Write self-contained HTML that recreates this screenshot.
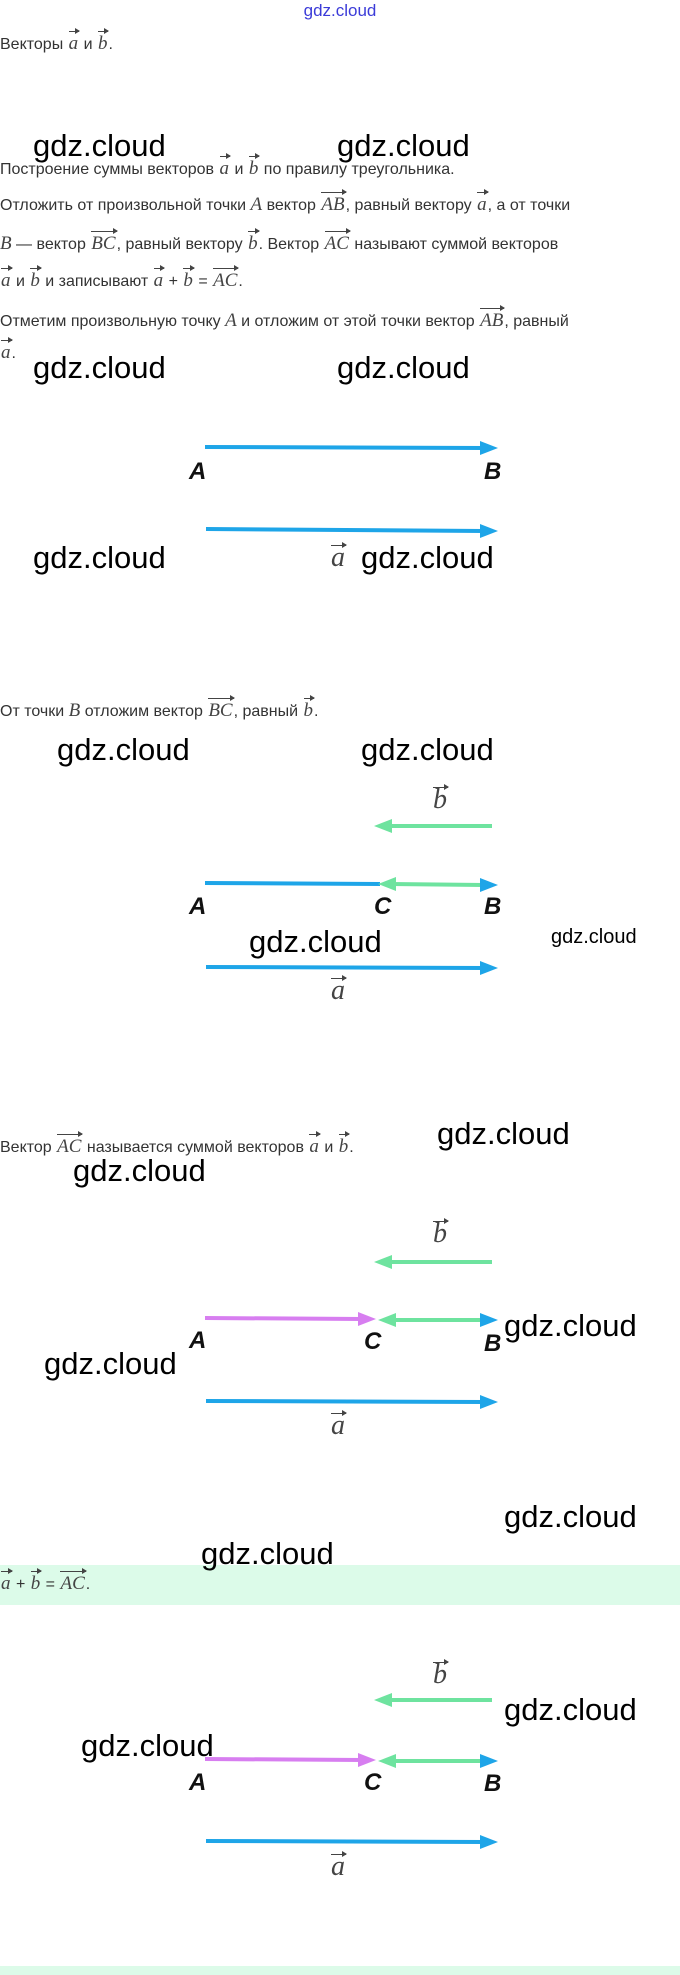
<!DOCTYPE html>
<html><head><meta charset="utf-8"><style>
body{margin:0;width:680px;height:1975px;position:relative;background:#fff;overflow:hidden;font-family:"Liberation Sans",sans-serif;}
.t{position:absolute;left:0;font-size:16px;color:#333;line-height:20px;white-space:nowrap;}
.w{position:absolute;font-size:31px;color:#000;line-height:36px;white-space:nowrap;}
.v{position:relative;display:inline-block;font-family:"Liberation Serif",serif;font-style:italic;font-size:19px;color:#444;padding:0 1px;}
.v::before{content:"";position:absolute;left:1px;right:0;top:-3px;border-top:1px solid #444;}
.v::after{content:"";position:absolute;right:-1px;top:-6px;border-left:6px solid #444;border-top:3px solid transparent;border-bottom:3px solid transparent;width:0;height:0;transform:translateY(0);border-left-width:5px;}
.m{font-family:"Liberation Serif",serif;font-style:italic;font-size:19px;color:#444;}
.L{position:absolute;font-family:"Liberation Sans Narrow","Liberation Sans",sans-serif;font-weight:bold;font-style:italic;font-size:24px;line-height:26px;color:#111;}
.band{position:absolute;left:0;width:680px;background:#dcfbe9;}
</style></head><body>
<div class="band" style="top:1565px;height:40px"></div>
<div class="band" style="top:1966px;height:9px"></div>
<div style="position:absolute;left:0;width:680px;top:1px;text-align:center;font-size:17px;color:#3b3bd8;line-height:20px">gdz.cloud</div>

<div class="t" style="top:34px">Векторы <span class="v">a</span> и <span class="v">b</span>.</div>
<div class="t" style="top:159px">Построение суммы векторов <span class="v">a</span> и <span class="v">b</span> по правилу треугольника.</div>
<div class="t" style="top:195px">Отложить от произвольной точки <span class="m">A</span> вектор <span class="v">AB</span>, равный вектору <span class="v">a</span>, а от точки</div>
<div class="t" style="top:234px"><span class="m">B</span> — вектор <span class="v">BC</span>, равный вектору <span class="v">b</span>. Вектор <span class="v">AC</span> называют суммой векторов</div>
<div class="t" style="top:271px"><span class="v">a</span> и <span class="v">b</span> и записывают <span class="v">a</span> + <span class="v">b</span> = <span class="v">AC</span>.</div>
<div class="t" style="top:311px">Отметим произвольную точку <span class="m">A</span> и отложим от этой точки вектор <span class="v">AB</span>, равный</div>
<div class="t" style="top:343px"><span class="v">a</span>.</div>
<div class="t" style="top:701px">От точки <span class="m">B</span> отложим вектор <span class="v">BC</span>, равный <span class="v">b</span>.</div>
<div class="t" style="top:1137px">Вектор <span class="v">AC</span> называется суммой векторов <span class="v">a</span> и <span class="v">b</span>.</div>
<div class="t" style="top:1574px"><span class="v">a</span> + <span class="v">b</span> = <span class="v">AC</span>.</div>

<div class="w" style="left:33px;top:128px">gdz.cloud</div>
<div class="w" style="left:337px;top:128px">gdz.cloud</div>
<div class="w" style="left:33px;top:350px">gdz.cloud</div>
<div class="w" style="left:337px;top:350px">gdz.cloud</div>
<div class="w" style="left:33px;top:540px">gdz.cloud</div>
<div class="w" style="left:361px;top:540px">gdz.cloud</div>
<div class="w" style="left:57px;top:732px">gdz.cloud</div>
<div class="w" style="left:361px;top:732px">gdz.cloud</div>
<div class="w" style="left:249px;top:924px">gdz.cloud</div>
<div class="w" style="left:551px;top:925px;font-size:20px;line-height:24px">gdz.cloud</div>
<div class="w" style="left:437px;top:1116px">gdz.cloud</div>
<div class="w" style="left:73px;top:1153px">gdz.cloud</div>
<div class="w" style="left:504px;top:1308px">gdz.cloud</div>
<div class="w" style="left:44px;top:1346px">gdz.cloud</div>
<div class="w" style="left:504px;top:1499px">gdz.cloud</div>
<div class="w" style="left:201px;top:1536px">gdz.cloud</div>
<div class="w" style="left:504px;top:1692px">gdz.cloud</div>
<div class="w" style="left:81px;top:1728px">gdz.cloud</div>

<svg width="680" height="1975" style="position:absolute;left:0;top:0">
<defs></defs>
<g stroke-width="4" fill="none">
<line x1="205" y1="447" x2="484" y2="448" stroke="#1ea5e8"/>
<line x1="206" y1="529" x2="484" y2="531" stroke="#1ea5e8"/>
<line x1="390" y1="826" x2="492" y2="826" stroke="#6ee39f"/>
<line x1="205" y1="883" x2="380" y2="884" stroke="#1ea5e8"/>
<line x1="390" y1="884" x2="484" y2="885" stroke="#6ee39f"/>
<line x1="206" y1="967" x2="484" y2="968" stroke="#1ea5e8"/>
<line x1="390" y1="1262" x2="492" y2="1262" stroke="#6ee39f"/>
<line x1="205" y1="1318" x2="362" y2="1319" stroke="#d77ef0"/>
<line x1="390" y1="1320" x2="484" y2="1320" stroke="#6ee39f"/>
<line x1="206" y1="1401" x2="484" y2="1402" stroke="#1ea5e8"/>
<line x1="390" y1="1700" x2="492" y2="1700" stroke="#6ee39f"/>
<line x1="205" y1="1759" x2="362" y2="1760" stroke="#d77ef0"/>
<line x1="390" y1="1761" x2="484" y2="1761" stroke="#6ee39f"/>
<line x1="206" y1="1841" x2="484" y2="1842" stroke="#1ea5e8"/>
</g>
<g>
<polygon points="498,448 480,441 480,455" fill="#1ea5e8"/>
<polygon points="498,531 480,524 480,538" fill="#1ea5e8"/>
<polygon points="374,826 392,819 392,833" fill="#6ee39f"/>
<polygon points="498,885 480,878 480,892" fill="#1ea5e8"/>
<polygon points="378,884 396,877 396,891" fill="#6ee39f"/>
<polygon points="498,968 480,961 480,975" fill="#1ea5e8"/>
<polygon points="374,1262 392,1255 392,1269" fill="#6ee39f"/>
<polygon points="376,1319 358,1312 358,1326" fill="#d77ef0"/>
<polygon points="498,1320 480,1313 480,1327" fill="#1ea5e8"/>
<polygon points="378,1320 396,1313 396,1327" fill="#6ee39f"/>
<polygon points="498,1402 480,1395 480,1409" fill="#1ea5e8"/>
<polygon points="374,1700 392,1693 392,1707" fill="#6ee39f"/>
<polygon points="376,1760 358,1753 358,1767" fill="#d77ef0"/>
<polygon points="498,1761 480,1754 480,1768" fill="#1ea5e8"/>
<polygon points="378,1761 396,1754 396,1768" fill="#6ee39f"/>
<polygon points="498,1842 480,1835 480,1849" fill="#1ea5e8"/>
</g>
</svg>

<div class="L" style="left:189px;top:459px">A</div>
<div class="L" style="left:484px;top:459px">B</div>
<div class="L" style="left:189px;top:894px">A</div>
<div class="L" style="left:374px;top:894px">C</div>
<div class="L" style="left:484px;top:894px">B</div>
<div class="L" style="left:189px;top:1328px">A</div>
<div class="L" style="left:364px;top:1329px">C</div>
<div class="L" style="left:484px;top:1331px">B</div>
<div class="L" style="left:189px;top:1770px">A</div>
<div class="L" style="left:364px;top:1770px">C</div>
<div class="L" style="left:484px;top:1771px">B</div>

<div class="t" style="left:330px;top:548px"><span class="v" style="font-size:28px">a</span></div>
<div class="t" style="left:432px;top:790px"><span class="v" style="font-size:28px">b</span></div>
<div class="t" style="left:330px;top:981px"><span class="v" style="font-size:28px">a</span></div>
<div class="t" style="left:432px;top:1224px"><span class="v" style="font-size:28px">b</span></div>
<div class="t" style="left:330px;top:1416px"><span class="v" style="font-size:28px">a</span></div>
<div class="t" style="left:432px;top:1665px"><span class="v" style="font-size:28px">b</span></div>
<div class="t" style="left:330px;top:1857px"><span class="v" style="font-size:28px">a</span></div>
</body></html>
